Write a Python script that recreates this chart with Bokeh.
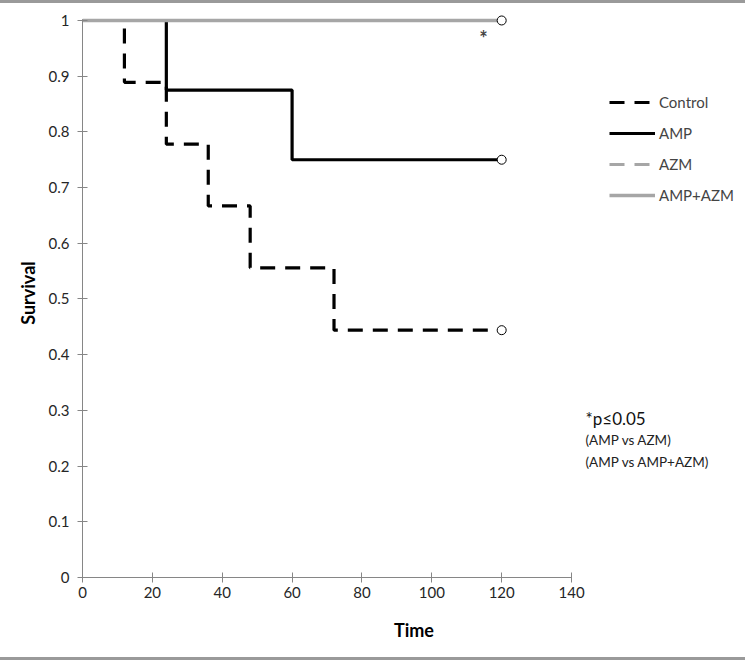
from bokeh.plotting import figure
from bokeh.models import Legend, LegendItem, Label, FixedTicker, Range1d, Div
from bokeh.layouts import column
from bokeh.embed import file_html
from bokeh.resources import INLINE

# ---- data ----
control_t = [0, 12, 24, 36, 48, 72, 120]
control_s = [1.0, 0.889, 0.778, 0.667, 0.556, 0.444, 0.444]
amp_t = [0, 24, 60, 120]
amp_s = [1.0, 0.875, 0.75, 0.75]
azm_t = [0, 120]
azm_s = [1.0, 1.0]
ampazm_t = [0, 120]
ampazm_s = [1.0, 1.0]
x_ticks = [0, 20, 40, 60, 80, 100, 120, 140]
y_ticks = [0, 0.1, 0.2, 0.3, 0.4, 0.5, 0.6, 0.7, 0.8, 0.9, 1.0]
y_labels = ["0", "0.1", "0.2", "0.3", "0.4", "0.5", "0.6", "0.7", "0.8", "0.9", "1"]

FONT = "Lato"
GRAY = "#a6a6a6"
AXC = "#868686"

p = figure(width=745, height=654, output_backend="svg", toolbar_location=None,
           x_range=Range1d(0, 189.8), y_range=Range1d(0, 1.0215),
           min_border_left=82, min_border_right=0, min_border_top=5, min_border_bottom=80,
           margin=0)
p.outline_line_color = None
p.xgrid.visible = False
p.ygrid.visible = False

for ax in (p.xaxis[0], p.yaxis[0]):
    ax.axis_line_color = AXC
    ax.major_tick_line_color = AXC
    ax.minor_tick_line_color = None
    ax.major_tick_in = 5
    ax.major_tick_out = 5
    ax.major_label_text_font = FONT
    ax.major_label_text_font_size = "15px"
    ax.major_label_text_color = "#262626"
    ax.axis_label_text_font = FONT
    ax.axis_label_text_font_size = "18px"
    ax.axis_label_text_font_style = "bold"
    ax.axis_label_text_color = "#000000"

p.xaxis.ticker = FixedTicker(ticks=x_ticks)
p.yaxis.ticker = FixedTicker(ticks=y_ticks)
p.xaxis.bounds = (0, 140)
p.yaxis.bounds = (0, 1)
p.yaxis.major_label_overrides = {t: l for t, l in zip(y_ticks, y_labels)}
p.xaxis.axis_label = "Time"
p.yaxis.axis_label = "Survival"
p.xaxis.major_label_standoff = 4
p.yaxis.major_label_standoff = 8
p.xaxis.axis_label_standoff = 18
p.yaxis.axis_label_standoff = 7

r_ctrl = p.step(control_t, control_s, mode="after", line_color="black", line_width=3.2,
                line_dash="15 10")
r_amp = p.step(amp_t, amp_s, mode="after", line_color="black", line_width=3.2)
r_azm = p.step(azm_t, azm_s, mode="after", line_color=GRAY, line_width=3, line_dash="15 10")
r_aa = p.step(ampazm_t, ampazm_s, mode="after", line_color=GRAY, line_width=3.4)

# end (censor) markers
p.scatter([control_t[-1]], [control_s[-1]], size=9, marker="circle", fill_color="white",
          line_color="black", line_width=1)
p.scatter([amp_t[-1]], [amp_s[-1]], size=9, marker="circle", fill_color="white",
          line_color="black", line_width=1)
p.scatter([ampazm_t[-1]], [ampazm_s[-1]], size=9, marker="circle", fill_color="white",
          line_color="black", line_width=1)

legend = Legend(items=[LegendItem(label="Control", renderers=[r_ctrl]),
                       LegendItem(label="AMP", renderers=[r_amp]),
                       LegendItem(label="AZM", renderers=[r_azm]),
                       LegendItem(label="AMP+AZM", renderers=[r_aa])],
                location=(527, 372), glyph_width=46, glyph_height=20, label_height=20,
                spacing=11, padding=0, margin=0, label_standoff=4,
                label_text_font=FONT, label_text_font_size="15px",
                border_line_color=None, background_fill_alpha=0)
p.add_layout(legend, "center")

p.add_layout(Label(x=114.8, y=0.969, text="*", text_font=FONT, text_font_size="20px",
                   text_font_style="bold", text_align="center", text_baseline="middle"))
p.add_layout(Label(x=144, y=0.2855, text="*p≤0.05", text_font=FONT, text_font_size="17px",
                   text_color="#111111", text_align="left", text_baseline="middle"))
p.add_layout(Label(x=144, y=0.246, text="(AMP vs AZM)", text_font=FONT, text_font_size="13.5px",
                   text_color="#222222", text_align="left", text_baseline="middle"))
p.add_layout(Label(x=144, y=0.208, text="(AMP vs AMP+AZM)", text_font=FONT, text_font_size="13.5px",
                   text_color="#222222", text_align="left", text_baseline="middle"))

top_rule = Div(text="", width=745, height=3, margin=0, styles={"background-color": "#9a9a9a"})
bottom_rule = Div(text="", width=745, height=3, margin=0, styles={"background-color": "#9a9a9a"})
layout = column(top_rule, p, bottom_rule, spacing=0, margin=0)

open("out.html", "w").write(file_html(layout, INLINE))
